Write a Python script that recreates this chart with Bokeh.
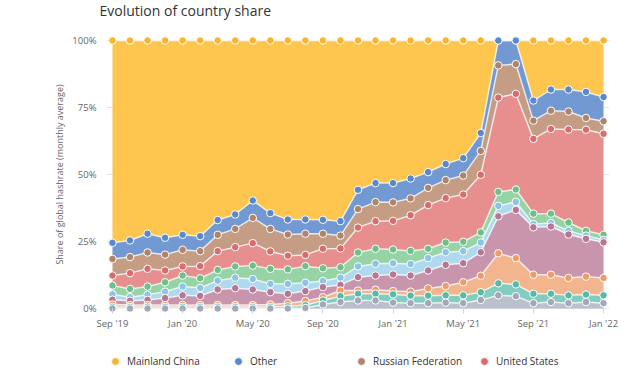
from bokeh.plotting import figure
from bokeh.layouts import column
from bokeh.models import (ColumnDataSource, FixedTicker, PrintfTickFormatter, Legend,
                          LegendItem, Range1d, Label)
from bokeh.transform import stack
from bokeh.embed import file_html
from bokeh.resources import INLINE

# ---------------- data (share of global hashrate, %) ----------------
months = ["Sep '19", "Oct '19", "Nov '19", "Dec '19", "Jan '20", "Feb '20", "Mar '20", "Apr '20",
          "May '20", "Jun '20", "Jul '20", "Aug '20", "Sep '20", "Oct '20", "Nov '20", "Dec '20",
          "Jan '21", "Feb '21", "Mar '21", "Apr '21", "May '21", "Jun '21", "Jul '21", "Aug '21",
          "Sep '21", "Oct '21", "Nov '21", "Dec '21", "Jan '22"]
tick_labels = ["Sep '19", "Jan '20", "May '20", "Sep '20", "Jan '21", "May '21", "Sep '21", "Jan '22"]
y_ticks = [0, 25, 50, 75, 100]

ireland = [0, 0, 0, 0, 0, 0, 0, 0, 0, 0, 0, 0.2, 1.5, 2.4, 3.0, 3.0, 2.2, 2.0, 2.0, 2.2, 2.0, 3.2,
           4.9, 4.6, 2.0, 2.4, 2.0, 2.4, 2.0]
germany = [0.6, 0.6, 0.6, 0.6, 0.6, 0.6, 0.6, 0.6, 0.6, 0.6, 0.8, 1.0, 1.5, 2.2, 2.5, 2.5, 3.1, 2.8,
           2.8, 2.7, 2.9, 2.9, 4.5, 4.4, 3.5, 3.1, 2.9, 2.8, 2.9]
canada = [0.9, 0.7, 0.7, 0.7, 0.7, 0.7, 0.7, 0.7, 0.7, 0.9, 1.2, 1.6, 1.2, 2.1, 1.2, 1.5, 1.2, 1.5,
          2.7, 3.5, 4.9, 6.1, 11.2, 9.8, 7.1, 7.1, 6.5, 6.7, 6.5]
kazakhstan = [1.8, 1.6, 1.9, 2.6, 3.6, 3.4, 5.8, 6.3, 5.8, 4.6, 3.5, 3.7, 3.8, 2.1, 5.0, 5.3, 6.2, 6.0,
              6.7, 7.9, 7.1, 8.8, 13.8, 18.0, 17.7, 18.0, 16.2, 14.1, 13.3]
iran = [2.0, 1.3, 1.9, 2.4, 3.3, 3.0, 3.3, 3.9, 3.9, 3.1, 3.7, 3.1, 2.3, 2.7, 4.0, 4.4, 4.2, 4.3,
        4.6, 4.7, 4.5, 3.6, 3.9, 3.0, 1.2, 1.3, 1.4, 1.2, 0.9]
malaysia = [3.3, 3.1, 3.1, 3.5, 4.1, 3.6, 4.0, 4.2, 5.0, 5.6, 5.4, 6.2, 4.7, 3.9, 5.2, 5.6, 5.1, 4.9,
            3.5, 3.6, 3.5, 3.8, 5.2, 4.6, 3.9, 3.5, 3.1, 1.8, 1.9]
united_states = [3.7, 5.9, 6.6, 4.4, 3.4, 4.5, 7.0, 7.2, 8.4, 6.5, 5.1, 4.2, 7.3, 7.0, 9.3, 10.3, 10.7,
                 13.3, 16.3, 16.6, 17.6, 21.5, 35.2, 35.7, 27.9, 31.6, 34.7, 37.7, 37.7]
russia = [6.2, 6.0, 6.1, 5.9, 6.2, 5.6, 6.1, 6.8, 9.4, 8.4, 7.9, 7.9, 5.6, 4.8, 6.9, 7.1, 6.9, 6.3,
          6.4, 6.7, 7.1, 8.9, 12.0, 11.1, 6.8, 6.8, 6.7, 4.4, 4.7]
other = [6.0, 6.2, 7.0, 6.3, 5.6, 5.6, 5.5, 5.4, 6.5, 5.9, 5.6, 5.3, 5.2, 5.4, 7.2, 7.1, 7.2, 7.4,
         5.9, 6.0, 6.5, 6.7, 9.3, 8.8, 7.5, 7.9, 8.2, 9.7, 9.0]
china = [75.5, 74.6, 72.1, 73.6, 72.5, 73.0, 67.0, 64.9, 59.7, 64.4, 66.8, 66.8, 66.9, 67.4, 55.7,
         53.2, 53.2, 51.5, 49.1, 46.1, 43.9, 34.5, 0, 0, 22.4, 18.3, 18.3, 19.2, 21.1]

# stacking order, bottom -> top
names = ["Ireland", "Germany", "Canada", "Kazakhstan", "Iran", "Malaysia",
         "United States", "Russian Federation", "Other", "Mainland China"]
series = [ireland, germany, canada, kazakhstan, iran, malaysia, united_states, russia, other, china]
area_colors = ["#BAC0CC", "#82CDBF", "#F3B58E", "#C995AD", "#AED9EF", "#96D4A6",
               "#E78F8F", "#C59D84", "#7299D2", "#FEC54F"]
marker_colors = ["#A2A8B8", "#55BBA9", "#EE9D6A", "#B87594", "#8AC4E7", "#6CC188",
                 "#D96C6C", "#B0846B", "#5A88CF", "#F5B731"]
legend_names = ["Mainland China", "Other", "Russian Federation", "United States"]

data = {"x": list(range(len(months)))}
for n, s in zip(names, series):
    data[n] = s
source = ColumnDataSource(data)

FONT = "Open Sans"
W = 642
H_TITLE, H_MAIN, H_LEG = 20, 316, 36


def bare_figure(height):
    f = figure(width=W, height=height, output_backend="svg", toolbar_location=None,
               x_range=Range1d(0, 1), y_range=Range1d(0, 1),
               min_border_left=0, min_border_right=0, min_border_top=0, min_border_bottom=0)
    f.axis.visible = False
    f.grid.visible = False
    f.outline_line_color = None
    f.title.visible = False
    f.frame_align = False
    return f


# ---------------- title strip ----------------
tfig = bare_figure(H_TITLE)
tfig.add_layout(Label(x=99, y=10, x_units="screen", y_units="screen",
                      text="Evolution of country share", text_font=FONT,
                      text_font_size="14px", text_color="#333333",
                      text_baseline="middle"))

# ---------------- main chart ----------------
p = figure(width=W, height=H_MAIN, output_backend="svg", toolbar_location=None,
           x_range=Range1d(-0.34, len(months) - 1 + 0.34), y_range=Range1d(-1.49, 101.49),
           min_border_left=106, min_border_right=33, min_border_top=16, min_border_bottom=24)
p.title.visible = False
p.outline_line_color = None
p.background_fill_color = "white"
p.border_fill_color = "white"

p.varea_stack(names, x="x", source=source, color=area_colors, fill_alpha=1.0)

for i in range(len(names)):
    p.line(x="x", y=stack(*names[:i + 1]), source=source, line_color="white",
           line_alpha=0.75, line_width=1.5)

for i in reversed(range(len(names))):
    p.scatter(x="x", y=stack(*names[:i + 1]), source=source, size=7.5,
              fill_color=marker_colors[i], line_color="white", line_width=1)

p.xaxis.ticker = FixedTicker(ticks=[months.index(t) for t in tick_labels])
p.xaxis.major_label_overrides = {months.index(t): t for t in tick_labels}
p.xaxis.axis_line_color = None
p.xaxis.major_tick_line_color = "#ccd6eb"
p.xaxis.major_tick_in = 4
p.xaxis.major_tick_out = 1
p.xaxis.minor_tick_line_color = None
p.xaxis.major_label_standoff = 3
p.xaxis.major_label_text_font = FONT
p.xaxis.major_label_text_font_size = "9.5px"
p.xaxis.major_label_text_color = "#666666"

p.yaxis.ticker = FixedTicker(ticks=y_ticks)
p.yaxis.formatter = PrintfTickFormatter(format="%d%%")
p.yaxis.axis_line_color = None
p.yaxis.major_tick_line_color = None
p.yaxis.minor_tick_line_color = None
p.yaxis.major_tick_out = 0
p.yaxis.major_tick_in = 0
p.yaxis.major_label_standoff = 10
p.yaxis.major_label_text_font = FONT
p.yaxis.major_label_text_font_size = "9.5px"
p.yaxis.major_label_text_color = "#666666"
p.yaxis.axis_label = "Share of global hashrate (monthly average)"
p.yaxis.axis_label_text_font = FONT
p.yaxis.axis_label_text_font_size = "9px"
p.yaxis.axis_label_text_font_style = "normal"
p.yaxis.axis_label_text_color = "#666666"
p.yaxis.axis_label_standoff = 3

p.xgrid.grid_line_color = None
p.ygrid.ticker = FixedTicker(ticks=y_ticks)
p.ygrid.grid_line_color = "#e6e6e6"

# ---------------- legend strip ----------------
lfig = bare_figure(H_LEG)
items = []
for n in legend_names:
    i = names.index(n)
    r = lfig.scatter(x=[-5], y=[-5], size=7.5, fill_color=marker_colors[i],
                     line_color="white", line_width=1)
    items.append(LegendItem(label=n, renderers=[r]))
legend = Legend(items=items, orientation="horizontal", location=(105, 1),
                glyph_width=20, glyph_height=20, label_standoff=2, label_width=95,
                label_height=20, spacing=6, padding=0, margin=0,
                border_line_color=None, background_fill_alpha=0,
                label_text_font=FONT, label_text_font_size="10px", label_text_color="#333333")
lfig.add_layout(legend, "center")

layout = column(tfig, p, lfig, spacing=0)
open("out.html", "w").write(file_html(layout, INLINE))
